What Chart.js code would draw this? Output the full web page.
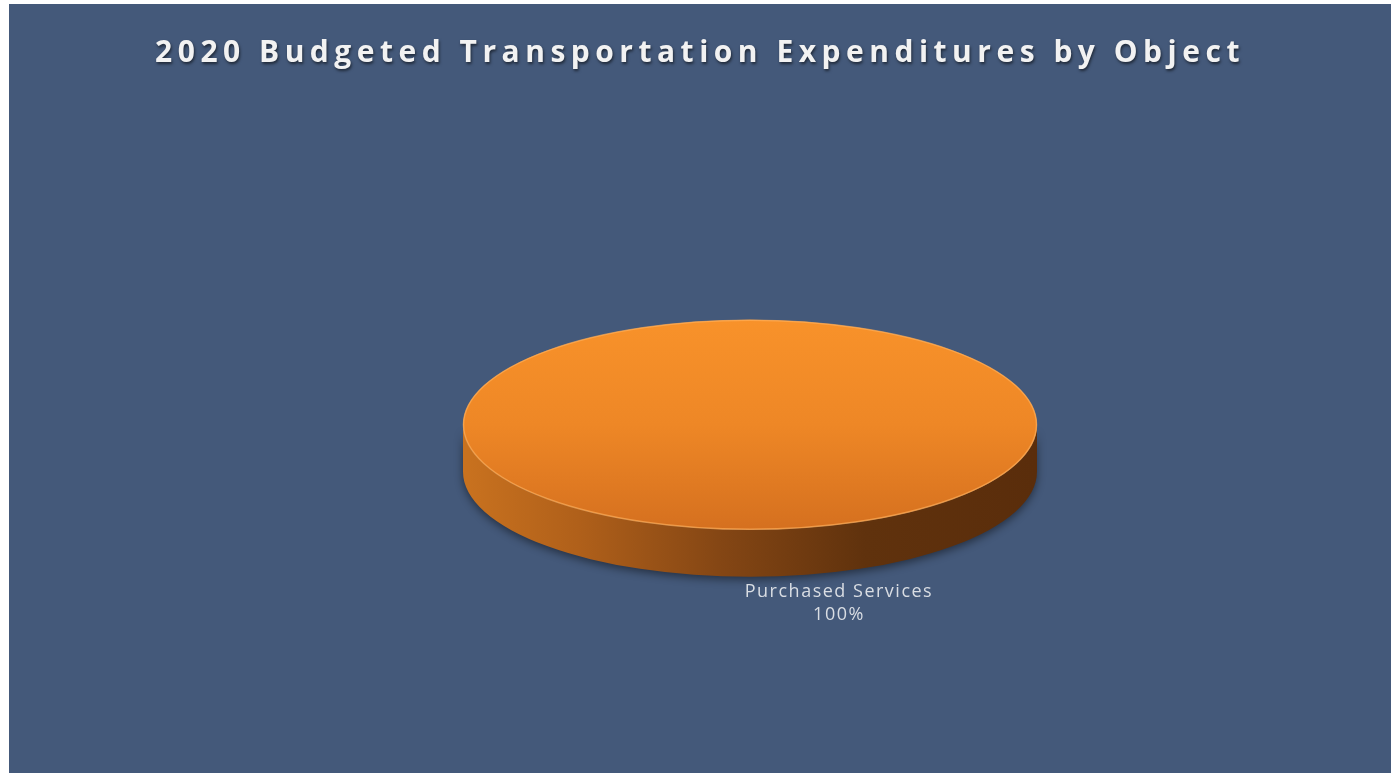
<!DOCTYPE html>
<html>
<head>
<meta charset="utf-8">
<script src="https://cdn.jsdelivr.net/npm/chart.js@4"></script>
<style>
    html, body { margin: 0; padding: 0; background: #ffffff; }
    #wrap {
        position: absolute;
        left: 9px;
        top: 4px;
        width: 1382px;
        height: 769px;
        background: #44597a;
    }
</style>
</head>
<body>
<div id="wrap"><canvas id="objectChart"></canvas></div>
<script>
// Budget shares by object
const categories = ['Purchased Services'];
const shares = [100];

const titleText = '2020 Budgeted Transportation Expenditures by Object';

// Pie tilt (vertical squash) and thickness of the disc
const TILT = 0.366;
const DEPTH = 47;

// Title spacing / shadow, reset before the pie is drawn
const titleStyle = {
    id: 'titleStyle',
    afterLayout(chart) {
        // keep the title centred on the whole canvas, not the padded pie area
        const t = chart.titleBlock;
        if (t) {
            t.left = 0;
            t.right = chart.width;
            t.width = chart.width;
        }
    },
    beforeDraw(chart) {
        const ctx = chart.ctx;
        ctx.letterSpacing = '5.5px';
        ctx.shadowColor = 'rgba(0, 0, 0, 0.55)';
        ctx.shadowBlur = 3;
        ctx.shadowOffsetX = 1;
        ctx.shadowOffsetY = 2;
    },
    beforeDatasetsDraw(chart) {
        const ctx = chart.ctx;
        ctx.letterSpacing = '0px';
        ctx.shadowColor = 'rgba(0, 0, 0, 0)';
        ctx.shadowBlur = 0;
        ctx.shadowOffsetX = 0;
        ctx.shadowOffsetY = 0;
    }
};

// Draws the side wall of the disc, then squashes the context so the pie becomes an ellipse
const pie3d = {
    id: 'pie3d',
    beforeDatasetsDraw(chart) {
        const arc = chart.getDatasetMeta(0).data[0];
        if (!arc) return;
        const ctx = chart.ctx;
        const { x, y, outerRadius: R } = arc;
        const ry = R * TILT;

        ctx.save();
        ctx.shadowColor = 'rgba(0, 0, 0, 0.45)';
        ctx.shadowBlur = 8;
        ctx.shadowOffsetY = 3;
        const side = ctx.createLinearGradient(x - R, 0, x + R, 0);
        side.addColorStop(0, '#c9721f');
        side.addColorStop(0.2, '#b0601a');
        side.addColorStop(0.45, '#844614');
        side.addColorStop(0.7, '#60320d');
        side.addColorStop(1, '#5a2d0b');
        ctx.beginPath();
        ctx.moveTo(x + R, y);
        ctx.lineTo(x + R, y + DEPTH);
        ctx.ellipse(x, y + DEPTH, R, ry, 0, 0, Math.PI);
        ctx.lineTo(x - R, y);
        ctx.ellipse(x, y, R, ry, 0, Math.PI, 0, true);
        ctx.closePath();
        ctx.fillStyle = side;
        ctx.fill();
        ctx.restore();

        ctx.save();
        ctx.translate(x, y);
        ctx.scale(1, TILT);
        ctx.translate(-x, -y);
    },
    afterDatasetsDraw(chart) {
        const arc = chart.getDatasetMeta(0).data[0];
        if (!arc) return;
        const ctx = chart.ctx;
        ctx.restore();

        const { x, y, outerRadius: R } = arc;
        const ry = R * TILT;

        // light rim around the top face
        ctx.save();
        ctx.strokeStyle = 'rgba(255, 176, 92, 0.65)';
        ctx.lineWidth = 1.5;
        ctx.beginPath();
        ctx.ellipse(x, y, R - 0.5, ry - 0.5, 0, 0, Math.PI * 2);
        ctx.stroke();
        ctx.restore();

        // category name and percentage under the disc
        const total = shares.reduce((a, b) => a + b, 0);
        const pct = Math.round(shares[0] / total * 100) + '%';
        const lx = x + R * 0.31;
        const ly = y + ry + DEPTH + 15;
        ctx.save();
        ctx.fillStyle = '#d9dde3';
        ctx.font = '18px "Open Sans"';
        ctx.textAlign = 'center';
        ctx.textBaseline = 'middle';
        ctx.letterSpacing = '1.5px';
        ctx.fillText(categories[0], lx, ly);
        ctx.fillText(pct, lx, ly + 23);
        ctx.restore();
    }
};

function topFace(context) {
    const area = context.chart.chartArea;
    if (!area) return '#ef8826';
    const cy = (area.top + area.bottom) / 2;
    const R = Math.min(area.right - area.left, area.bottom - area.top) / 2;
    const g = context.chart.ctx.createLinearGradient(0, cy - R, 0, cy + R);
    g.addColorStop(0, '#f8922a');
    g.addColorStop(0.5, '#ee8726');
    g.addColorStop(1, '#d5701f');
    return g;
}

const ctx = document.getElementById('objectChart').getContext('2d');
const objectChart = new Chart(ctx, {
    type: 'pie',
    data: {
        labels: categories,
        datasets: [{
            data: shares,
            backgroundColor: topFace,
            borderWidth: 0,
            radius: 287
        }]
    },
    options: {
        responsive: true,
        maintainAspectRatio: false,
        animation: false,
        layout: { padding: { left: 100, right: 0, top: 0, bottom: 61 } },
        plugins: {
            legend: { display: false },
            tooltip: { enabled: false },
            title: {
                display: true,
                text: titleText,
                color: '#f2f2f2',
                font: { family: "'Open Sans', sans-serif", size: 30, weight: 'bold', lineHeight: 1.2 },
                padding: { top: 31, bottom: 66.6 }
            }
        }
    },
    plugins: [titleStyle, pie3d]
});
</script>
</body>
</html>
